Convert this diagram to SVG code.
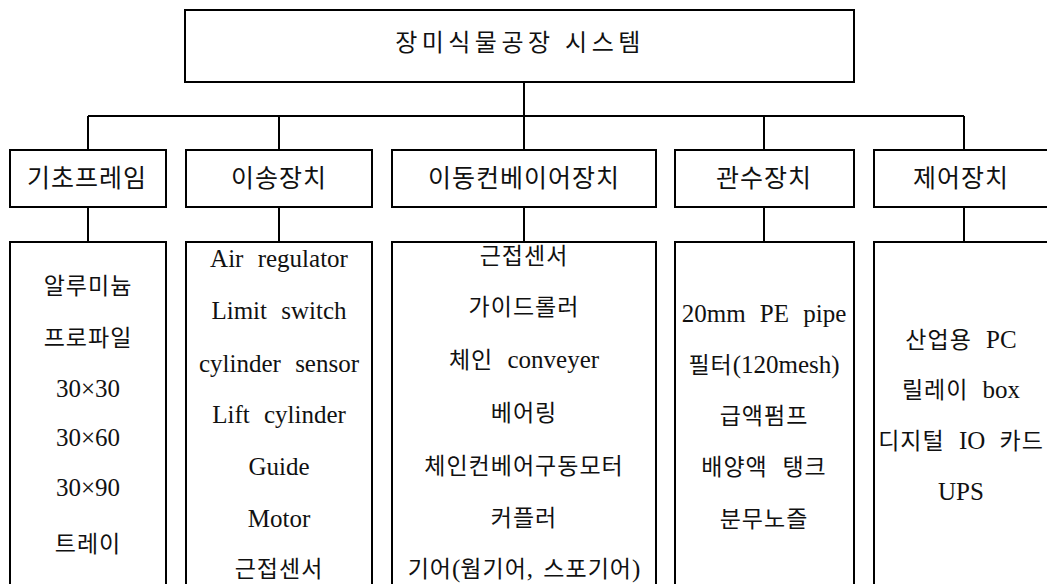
<svg xmlns="http://www.w3.org/2000/svg" width="1047" height="584" viewBox="0 0 1047 584">
<style>
.box{fill:#fff;stroke:#000;stroke-width:2}
.ln{stroke:#000;stroke-width:2;fill:none}
text{font-family:"Liberation Serif","Noto Sans CJK KR",serif;fill:#111;text-anchor:middle}
.t1{font-size:24px;letter-spacing:4.5px}
.t2{font-size:25px;letter-spacing:1px}
.t3{font-size:25px;word-spacing:8px}
.k{font-size:23px;letter-spacing:1px}
</style>
<rect width="1047" height="584" fill="#fff"/>
<g id="connectors">
<path class="ln" d="M524 82V116M88 116H964M88 116V150M279 116V150M524 116V150M764 116V150M964 116V150"/>
<path class="ln" d="M88 207V242M279 207V242M524 207V242M764 207V242M964 207V242"/>
</g>
<g id="root">
<rect class="box" x="185" y="10" width="669" height="72"/>
<text class="t1" x="520" y="51">장미식물공장 시스템</text>
</g>
<g id="n1">
<rect class="box" x="10" y="150" width="156" height="57"/>
<text class="t2" x="87" y="187">기초프레임</text>
</g>
<g id="n2">
<rect class="box" x="186" y="150" width="186" height="57"/>
<text class="t2" x="279" y="187">이송장치</text>
</g>
<g id="n3">
<rect class="box" x="392" y="150" width="264" height="57"/>
<text class="t2" x="524" y="187">이동컨베이어장치</text>
</g>
<g id="n4">
<rect class="box" x="675" y="150" width="179" height="57"/>
<text class="t2" x="764" y="187">관수장치</text>
</g>
<g id="n5">
<rect class="box" x="874" y="150" width="180" height="57"/>
<text class="t2" x="961" y="187">제어장치</text>
</g>
<g id="d1">
<rect class="box" x="10" y="242" width="156" height="360"/>
<text class="t3" x="88" y="294"><tspan class="k">알루미늄</tspan></text>
<text class="t3" x="88" y="346"><tspan class="k">프로파일</tspan></text>
<text class="t3" x="88" y="397">30×30</text>
<text class="t3" x="88" y="446">30×60</text>
<text class="t3" x="88" y="496">30×90</text>
<text class="t3" x="88" y="552"><tspan class="k">트레이</tspan></text>
</g>
<g id="d2">
<rect class="box" x="186" y="242" width="186" height="360"/>
<text class="t3" x="279" y="267">Air regulator</text>
<text class="t3" x="279" y="319">Limit switch</text>
<text class="t3" x="279" y="372">cylinder sensor</text>
<text class="t3" x="279" y="423">Lift cylinder</text>
<text class="t3" x="279" y="475">Guide</text>
<text class="t3" x="279" y="527">Motor</text>
<text class="t3" x="279" y="577"><tspan class="k">근접센서</tspan></text>
</g>
<g id="d3">
<rect class="box" x="392" y="242" width="264" height="360"/>
<text class="t3" x="524" y="264"><tspan class="k">근접센서</tspan></text>
<text class="t3" x="524" y="315"><tspan class="k">가이드롤러</tspan></text>
<text class="t3" x="524" y="368"><tspan class="k">체인</tspan> conveyer</text>
<text class="t3" x="524" y="421"><tspan class="k">베어링</tspan></text>
<text class="t3" x="524" y="474"><tspan class="k">체인컨베어구동모터</tspan></text>
<text class="t3" x="524" y="526"><tspan class="k">커플러</tspan></text>
<text class="t3" x="524" y="577" style="word-spacing:4px"><tspan class="k">기어</tspan>(<tspan class="k">웜기어</tspan>, <tspan class="k">스포기어</tspan>)</text>
</g>
<g id="d4">
<rect class="box" x="675" y="242" width="179" height="360"/>
<text class="t3" x="764" y="322">20mm PE pipe</text>
<text class="t3" x="764" y="373"><tspan class="k">필터</tspan>(120mesh)</text>
<text class="t3" x="764" y="424"><tspan class="k">급액펌프</tspan></text>
<text class="t3" x="764" y="475"><tspan class="k">배양액 탱크</tspan></text>
<text class="t3" x="764" y="527"><tspan class="k">분무노즐</tspan></text>
</g>
<g id="d5">
<rect class="box" x="874" y="242" width="180" height="360"/>
<text class="t3" x="961" y="348"><tspan class="k">산업용</tspan> PC</text>
<text class="t3" x="961" y="398"><tspan class="k">릴레이</tspan> box</text>
<text class="t3" x="961" y="449"><tspan class="k">디지털</tspan> IO <tspan class="k">카드</tspan></text>
<text class="t3" x="961" y="500">UPS</text>
</g>
</svg>
